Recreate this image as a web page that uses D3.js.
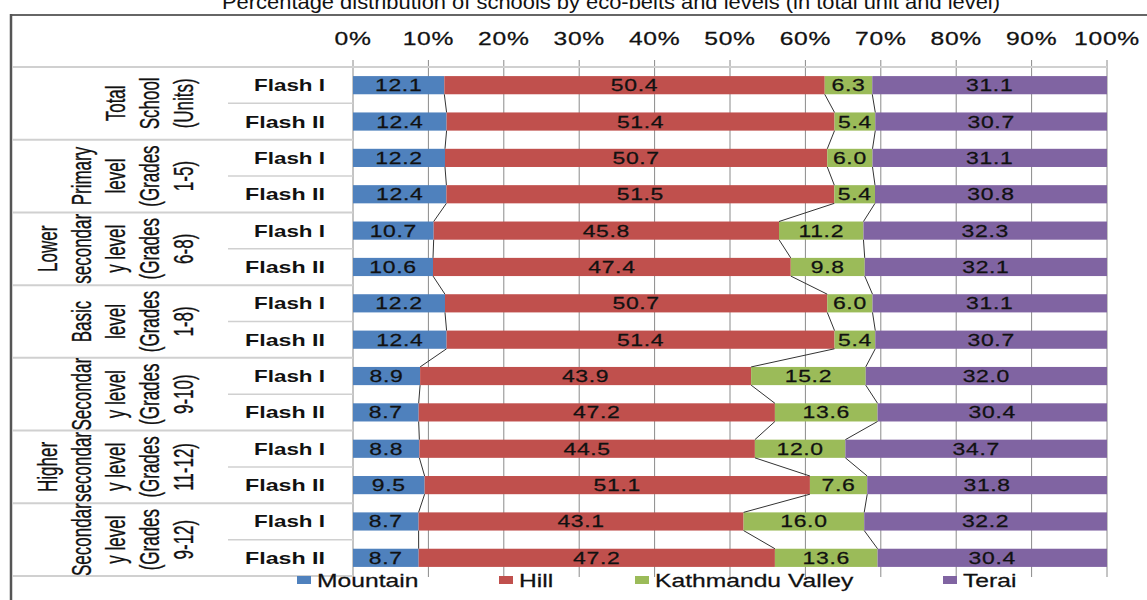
<!DOCTYPE html>
<html>
<head>
<meta charset="utf-8">
<script src="https://cdnjs.cloudflare.com/ajax/libs/d3/7.8.5/d3.min.js"></script>
<style>
body{margin:0;background:#fff;}
svg text{font-family:"Liberation Sans",Arial,sans-serif;}
</style>
</head>
<body>
<div id="container"></div>
<script>
// chart values
var title = "Percentage distribution of schools by eco-belts and levels (in total unit and level)"
var groupLines = [
  ["Total","School","(Units)"],
  ["Primary","level","(Grades","1-5)"],
  ["Lower","secondar","y level","(Grades","6-8)"],
  ["Basic","level","(Grades","1-8)"],
  ["Secondar","y level","(Grades","9-10)"],
  ["Higher","secondar","y level","(Grades","11-12)"],
  ["Secondar","y level","(Grades","9-12)"]
]
var flashLabels = ["Flash I","Flash II"]
var seriesNames = ["Mountain","Hill","Kathmandu Valley","Terai"]
var mountain  = [12.1,12.4,12.2,12.4,10.7,10.6,12.2,12.4,8.9,8.7,8.8,9.5,8.7,8.7]
var hill      = [50.4,51.4,50.7,51.5,45.8,47.4,50.7,51.4,43.9,47.2,44.5,51.1,43.1,47.2]
var kathmandu = [6.3,5.4,6.0,5.4,11.2,9.8,6.0,5.4,15.2,13.6,12.0,7.6,16.0,13.6]
var terai     = [31.1,30.7,31.1,30.8,32.3,32.1,31.1,30.7,32.0,30.4,34.7,31.8,32.2,30.4]
var tickValues = [0,10,20,30,40,50,60,70,80,90,100]

var colors = ["#4f81bd","#c0504d","#9bbb59","#8064a2"]

var rows = mountain.map(function(d,i){
    return {i:i, Mountain:d, Hill:hill[i], "Kathmandu Valley":kathmandu[i], Terai:terai[i]}
})
var stacked = d3.stack().keys(seriesNames).offset(d3.stackOffsetExpand)(rows)

var svg = d3.select("#container").append("svg").attr("width",1147).attr("height",600)

var plotLeft = 353, plotRight = 1107, plotTop = 67, plotBottom = 576
var xScale = d3.scaleLinear().domain([0,1]).range([plotLeft,plotRight])
var yScale = d3.scaleBand().domain(d3.range(rows.length)).range([plotTop,plotBottom]).paddingInner(0.5).paddingOuter(0.25)
var step = yScale.step()

// stretched text helper (the picture is widened)
function stext(g,x,y,str,size,sx,anchor){
    return g.append("text")
        .attr("transform","translate("+x+","+y+") scale("+sx+",1)")
        .attr("text-anchor",anchor||"middle")
        .attr("font-size",size)
        .attr("fill","#111")
        .attr("stroke","#111").attr("stroke-width",0.25)
        .text(str)
}

// title
svg.append("text")
    .attr("x",222).attr("y",9)
    .attr("font-size",21)
    .attr("textLength",778).attr("lengthAdjust","spacingAndGlyphs")
    .attr("fill","#111")
    .text(title)

// frame
svg.append("line").attr("x1",11).attr("x2",1147).attr("y1",15).attr("y2",15).attr("stroke","#666").attr("stroke-width",2)
svg.append("line").attr("x1",11).attr("x2",11).attr("y1",14).attr("y2",600).attr("stroke","#555").attr("stroke-width",2.5)

// vertical gridlines
tickValues.forEach(function(t){
    svg.append("line")
        .attr("x1",xScale(t/100)).attr("x2",xScale(t/100))
        .attr("y1",60).attr("y2",plotBottom+1)
        .attr("stroke","#8a8a8a").attr("stroke-width",1)
    stext(svg,xScale(t/100),45,t+"%",18,1.37).attr("letter-spacing",0.5)
})
svg.append("line").attr("x1",12).attr("x2",plotRight).attr("y1",plotTop).attr("y2",plotTop).attr("stroke","#d0d0d0").attr("stroke-width",2)

// category separators + labels
groupLines.forEach(function(lines,g){
    var y0 = plotTop + g*2*step
    svg.append("line").attr("x1",12).attr("x2",plotLeft).attr("y1",y0+2*step).attr("y2",y0+2*step)
        .attr("stroke","#d0d0d0").attr("stroke-width",2)
    svg.append("line").attr("x1",228).attr("x2",plotLeft).attr("y1",y0+step).attr("y2",y0+step)
        .attr("stroke","#d0d0d0").attr("stroke-width",1.5)
    var n = lines.length
    lines.forEach(function(s,k){
        var cx = 183 - (n-1-k)*34
        svg.append("text")
            .attr("transform","translate("+cx+","+(y0+step)+") rotate(-90) scale(1,1.6)")
            .attr("text-anchor","middle")
            .attr("dominant-baseline","central")
            .attr("font-size",17)
            .attr("fill","#111")
            .attr("stroke","#111").attr("stroke-width",0.2)
            .text(s)
    })
    flashLabels.forEach(function(f,k){
        svg.append("text")
            .attr("x",325).attr("y",y0+(k+0.5)*step+6)
            .attr("text-anchor","end")
            .attr("font-size",17).attr("font-weight","bold")
            .attr("textLength",k==0?71:80).attr("lengthAdjust","spacingAndGlyphs")
            .attr("fill","#111")
            .text(f)
    })
})

// bars
stacked.forEach(function(layer,s){
    svg.selectAll(".bar"+s)
        .data(layer)
        .enter()
        .append("rect")
        .attr("class","bar"+s)
        .attr("x",function(d){return xScale(d[0])})
        .attr("y",function(d,i){return yScale(i)})
        .attr("width",function(d){return xScale(d[1])-xScale(d[0])})
        .attr("height",yScale.bandwidth())
        .attr("fill",colors[s])
})

// series lines between stacked boundaries
for(var s=0;s<3;s++){
    for(var i=0;i<rows.length-1;i++){
        svg.append("line")
            .attr("x1",xScale(stacked[s][i][1])).attr("y1",yScale(i)+yScale.bandwidth())
            .attr("x2",xScale(stacked[s][i+1][1])).attr("y2",yScale(i+1))
            .attr("stroke","#333").attr("stroke-width",1)
    }
}

// data labels
var seriesValues = [mountain,hill,kathmandu,terai]
stacked.forEach(function(layer,s){
    layer.forEach(function(d,i){
        stext(svg,(xScale(d[0])+xScale(d[1]))/2,yScale(i)+yScale.bandwidth()/2+6,
            seriesValues[s][i].toFixed(1),17,1.35).attr("letter-spacing",0.5)
    })
})

// legend
var legendX = [297,499,635,943]
seriesNames.forEach(function(n,s){
    svg.append("rect").attr("x",legendX[s]).attr("y",576).attr("width",14).attr("height",8).attr("fill",colors[s])
    stext(svg,legendX[s]+20,587,n,18,1.37,"start")
})
</script>
</body>
</html>
